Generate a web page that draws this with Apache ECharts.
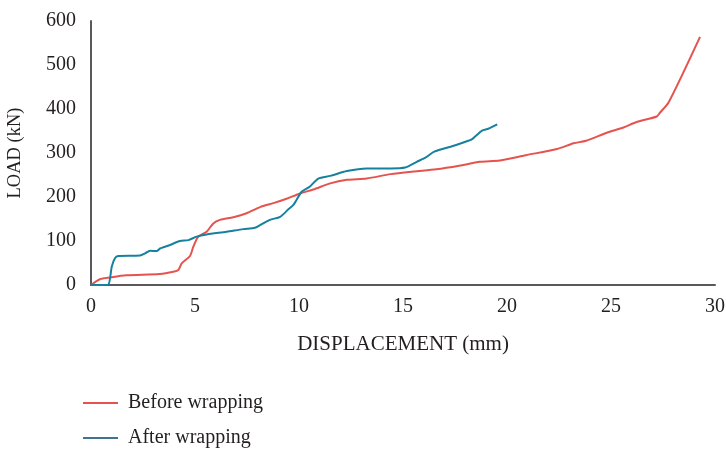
<!DOCTYPE html>
<html>
<head>
<meta charset="utf-8">
<script src="https://cdn.jsdelivr.net/npm/echarts@6/dist/echarts.min.js"></script>
<style>
  html, body { margin: 0; padding: 0; background: #fff; }
  #chart { width: 726px; height: 449px; }
</style>
</head>
<body>
<div id="chart"></div>
<script>
// Load–displacement response, before and after wrapping
const seriesNames = ['Before wrapping', 'After wrapping'];

const beforeDisp = [0, 0.43, 0.91, 1.7, 3.3, 3.96, 4.2, 4.36, 4.76, 4.92, 5.16, 5.56, 5.88, 6.2, 6.84, 7.48, 8.13, 8.77, 9.4, 10.05, 10.69, 11.5, 12.3, 13.25, 14.4, 15.5, 16.6, 17.7, 18.7, 19.66, 20.9, 22.4, 23.2, 23.8, 24.8, 25.6, 26.2, 27.2, 27.36, 27.76, 29.28];
const beforeLoad = [0, 13, 17, 22, 25, 30, 34, 49, 66, 87, 110, 121, 140, 148, 154, 163, 177, 186, 196, 208, 217, 231, 239, 242, 252, 258, 263, 271, 280, 283, 295, 309, 322, 328, 346, 358, 370, 383, 392, 414, 564];

const afterDisp = [0, 0.5, 0.83, 1.0, 1.15, 1.31, 2.36, 2.6, 2.84, 3.16, 3.32, 3.8, 4.28, 4.68, 5.08, 5.56, 6.52, 7.32, 7.88, 8.13, 8.6, 9.09, 9.49, 9.73, 10.13, 10.53, 10.93, 11.5, 12.3, 13.25, 14.4, 15.1, 15.66, 16.1, 16.5, 17.4, 17.9, 18.3, 18.8, 19.1, 19.53];
const afterLoad = [0, 0, 1, 42, 61, 66, 67, 72, 78, 77, 83, 91, 100, 102, 110, 115, 121, 127, 130, 136, 148, 155, 172, 182, 212, 224, 242, 248, 259, 265, 265, 267, 280, 290, 303, 316, 324, 331, 351, 355, 365];

const xTicks = { min: 0, max: 30, step: 5 };
const yTicks = { min: 0, max: 600, step: 100 };

const colors = ['#e5534f', '#16809f'];

const pairs = (xs, ys) => xs.map((x, i) => [x, ys[i]]);

const textColor = '#231f20';
const fontFamily = '"Liberation Serif", "DejaVu Serif", serif';

// one legend box per series so the two entries stack one above the other
const legendFor = (name, top) => ({
  left: 78,
  top: top,
  itemWidth: 35,
  itemHeight: 2,
  icon: 'rect',
  textStyle: { fontSize: 20, color: textColor, fontFamily: fontFamily, padding: [0, 0, 0, 5] },
  data: [name]
});

const chart = echarts.init(document.getElementById('chart'), null, { renderer: 'canvas' });
chart.setOption({
  animation: false,
  backgroundColor: '#ffffff',
  textStyle: { fontFamily: fontFamily, color: textColor },
  grid: { left: 91, right: 11, top: 21, bottom: 164, containLabel: false, outerBoundsMode: 'none' },
  xAxis: {
    type: 'value',
    min: xTicks.min, max: xTicks.max, interval: xTicks.step,
    name: 'DISPLACEMENT (mm)',
    nameLocation: 'middle',
    nameGap: 49,
    nameTextStyle: { fontSize: 21, color: textColor, fontFamily: fontFamily },
    axisLine: { show: true, lineStyle: { color: '#595959', width: 2 } },
    axisTick: { show: false },
    axisLabel: { fontSize: 20, color: textColor, margin: 12, fontFamily: fontFamily },
    splitLine: { show: false }
  },
  yAxis: {
    type: 'value',
    min: yTicks.min, max: yTicks.max, interval: yTicks.step,
    name: 'LOAD (kN)',
    nameLocation: 'middle',
    nameGap: 66,
    nameRotate: 90,
    nameTextStyle: { fontSize: 18.5, color: textColor, fontFamily: fontFamily },
    axisLine: { show: true, lineStyle: { color: '#595959', width: 2 } },
    axisTick: { show: false },
    axisLabel: { fontSize: 20, color: textColor, margin: 15, fontFamily: fontFamily },
    splitLine: { show: false }
  },
  legend: [legendFor(seriesNames[0], 388), legendFor(seriesNames[1], 423)],
  series: [
    {
      name: seriesNames[0],
      type: 'line',
      data: pairs(beforeDisp, beforeLoad),
      smooth: 0.25,
      showSymbol: false,
      symbol: 'none',
      lineStyle: { color: colors[0], width: 2 },
      itemStyle: { color: colors[0] }
    },
    {
      name: seriesNames[1],
      type: 'line',
      data: pairs(afterDisp, afterLoad),
      smooth: 0.25,
      showSymbol: false,
      symbol: 'none',
      lineStyle: { color: colors[1], width: 2 },
      itemStyle: { color: '#3f7391' }
    }
  ]
});
</script>
</body>
</html>
